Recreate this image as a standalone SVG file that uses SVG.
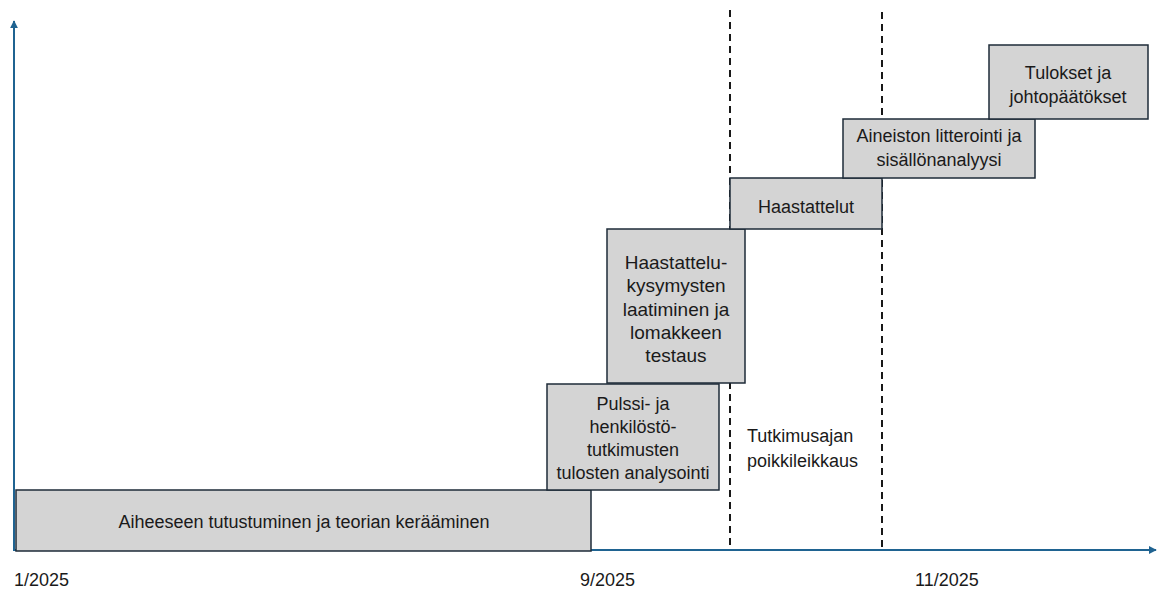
<svg xmlns="http://www.w3.org/2000/svg" width="1162" height="590" viewBox="0 0 1162 590">
<defs>
<marker id="arr" viewBox="0 0 10 10" refX="9" refY="5" markerWidth="4" markerHeight="4" orient="auto" markerUnits="strokeWidth">
<path d="M0,0 L10,5 L0,10 z" fill="#1f6391"/>
</marker>
<style>
.box{fill:#d4d4d4;stroke:#1e2b38;stroke-width:1.5}
.t{font-family:"Liberation Sans",Arial,sans-serif;font-size:18px;fill:#1a1a1a;text-anchor:middle}
.a{font-family:"Liberation Sans",Arial,sans-serif;font-size:19px;fill:#1a1a1a;text-anchor:middle}
.l{font-family:"Liberation Sans",Arial,sans-serif;font-size:18px;fill:#1a1a1a}
.ax{stroke:#1f6391;stroke-width:2;fill:none}
.dash{stroke:#000;stroke-width:1.8;stroke-dasharray:7,5;fill:none}
</style>
</defs>
<rect width="1162" height="590" fill="#fff"/>
<g id="connectors">
<line class="dash" x1="730" y1="10" x2="730" y2="551"/>
<line class="dash" x1="882" y1="12" x2="882" y2="551"/>
<line class="ax" x1="14" y1="551" x2="14" y2="21" marker-end="url(#arr)"/>
<line class="ax" x1="14" y1="550" x2="1156" y2="550" marker-end="url(#arr)"/>
</g>
<g id="n1"><rect class="box" x="16" y="490" width="575" height="61"/><text class="t" x="304" y="528">Aiheeseen tutustuminen ja teorian kerääminen</text></g>
<g id="n2"><rect class="box" x="547" y="384" width="172" height="106"/>
<text class="t" x="633" y="410">Pulssi- ja</text>
<text class="t" x="633" y="433">henkilöstö-</text>
<text class="t" x="633" y="456">tutkimusten</text>
<text class="t" x="633" y="479">tulosten analysointi</text></g>
<g id="n3"><rect class="box" x="607" y="229" width="138" height="154"/>
<text class="a" x="676" y="269">Haastattelu-</text>
<text class="a" x="676" y="292">kysymysten</text>
<text class="a" x="676" y="316">laatiminen ja</text>
<text class="a" x="676" y="339">lomakkeen</text>
<text class="a" x="676" y="362">testaus</text></g>
<g id="n4"><rect class="box" x="730" y="178" width="152" height="51"/><text class="t" x="806" y="213">Haastattelut</text></g>
<g id="n5"><rect class="box" x="843" y="119" width="192" height="59"/>
<text class="t" x="939" y="142">Aineiston litterointi ja</text>
<text class="t" x="939" y="166">sisällönanalyysi</text></g>
<g id="n6"><rect class="box" x="989" y="45" width="159" height="74"/>
<text class="t" x="1068" y="79">Tulokset ja</text>
<text class="t" x="1068" y="103">johtopäätökset</text></g>
<g id="labels">
<text class="l" x="747" y="442">Tutkimusajan</text>
<text class="l" x="747" y="467">poikkileikkaus</text>
<text class="l" x="14" y="586">1/2025</text>
<text class="l" x="580" y="586">9/2025</text>
<text class="l" x="915" y="586">11/2025</text>
</g>
</svg>
